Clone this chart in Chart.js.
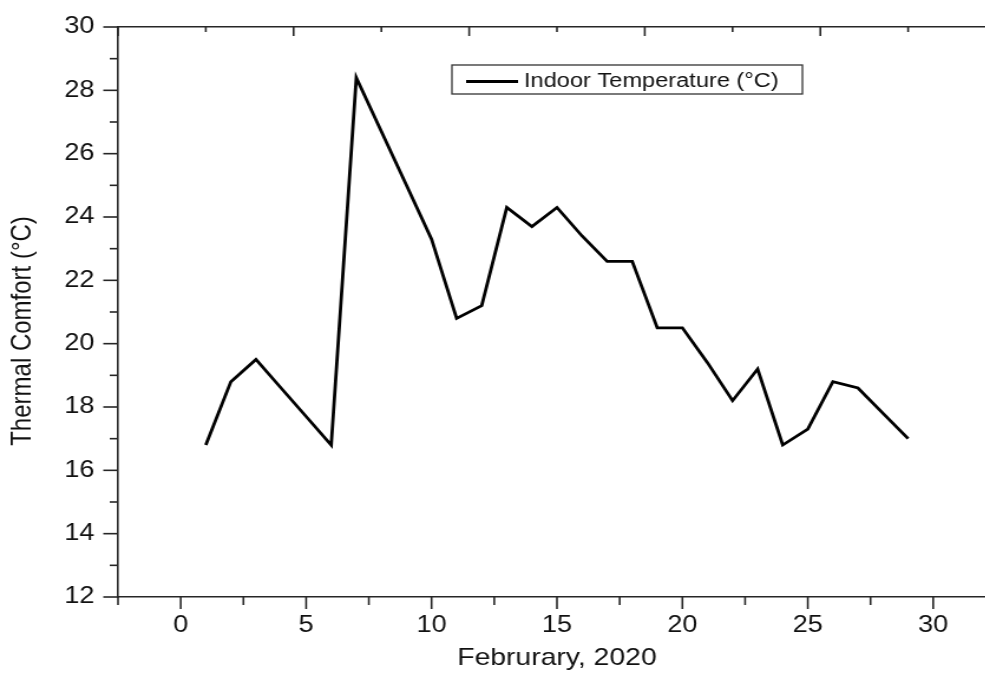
<!DOCTYPE html>
<html>
<head>
<meta charset="utf-8">
<script src="https://cdn.jsdelivr.net/npm/chart.js@4/dist/chart.umd.min.js"></script>
<style>
  html, body { margin: 0; padding: 0; background: #ffffff; overflow: hidden; width: 985px; height: 673px; }
  #clip { position: relative; width: 985px; height: 673px; overflow: hidden; }
  #wrap { position: absolute; left: 0; top: 0; width: 844px; height: 673px; transform: scaleX(1.18); transform-origin: 0 0; }
  canvas { display: block; }
</style>
</head>
<body>
<div id="clip"><div id="wrap"><canvas id="c" width="844" height="673" style="width:844px;height:673px"></canvas></div></div>
<script>
// ---- data ----
const days = [1, 2, 3, 4, 5, 6, 7, 8, 9, 10, 11, 12, 13, 14, 15, 16, 17, 18, 19, 20, 21, 22, 23, 24, 25, 26, 27, 28, 29];
const indoorTemp = [16.8, 18.8, 19.5, 18.6, 17.7, 16.8, 28.4, 26.7, 25.0, 23.3, 20.8, 21.2, 24.3, 23.7, 24.3, 23.4, 22.6, 22.6, 20.5, 20.5, 19.4, 18.2, 19.2, 16.8, 17.3, 18.8, 18.6, 17.8, 17.0];
const seriesLabel = 'Indoor Temperature (\u00B0C)';
const xTickValues = [0, 5, 10, 15, 20, 25, 30];
const yTickValues = [12, 14, 16, 18, 20, 22, 24, 26, 28, 30];
const xTitle = 'Februrary, 2020';
const yTitle = 'Thermal Comfort (\u00B0C)';

const FONT = "'Liberation Sans', Arial, Helvetica, sans-serif";
const AXIS = '#262626';
const TEXT = '#111111';

const tickMarks = {
  id: 'tickMarks',
  afterDraw(chart) {
    const { ctx, chartArea: ca, scales } = chart;
    ctx.save();
    ctx.strokeStyle = AXIS;
    ctx.lineWidth = 1.6;
    const seg = (x1, y1, x2, y2) => { ctx.beginPath(); ctx.moveTo(x1, y1); ctx.lineTo(x2, y2); ctx.stroke(); };
    const y = scales.y;
    for (let v = y.min; v <= y.max + 1e-9; v += 1) {
      const py = y.getPixelForValue(v);
      const len = (Math.round(v) % 2 === 0) ? 12.5 : 7;
      seg(ca.left - len, py, ca.left, py);
    }
    const x = scales.x;
    for (let v = x.min; v <= x.max + 1e-9; v += 2.5) {
      const px = x.getPixelForValue(v);
      const major = Math.abs(v / 5 - Math.round(v / 5)) < 1e-9;
      seg(px, ca.bottom, px, ca.bottom + (major ? 12 : 8));
    }
    const t = scales.x2;
    for (let v = t.min; v <= t.max + 1e-9; v += 1) {
      const px = t.getPixelForValue(v);
      const major = Math.round(v) % 2 === 0;
      seg(px, ca.top, px, ca.top + (major ? 9 : 5));
    }
    ctx.restore();
  }
};

const extras = {
  id: 'extras',
  afterDraw(chart) {
    const { ctx } = chart;
    ctx.save();
    // y-axis title
    ctx.fillStyle = TEXT;
    ctx.font = '24px ' + FONT;
    ctx.textAlign = 'center';
    ctx.textBaseline = 'middle';
    ctx.translate(19, 331);
    ctx.rotate(-Math.PI / 2);
    ctx.fillText(yTitle, 0, 0);
    ctx.restore();

    // legend box
    const ds = chart.data.datasets[0];
    ctx.save();
    const bx = 383, by = 65, bw = 297, bh = 29;
    ctx.fillStyle = '#ffffff';
    ctx.fillRect(bx, by, bw, bh);
    ctx.strokeStyle = '#333333';
    ctx.lineWidth = 1.3;
    ctx.strokeRect(bx, by, bw, bh);
    ctx.strokeStyle = ds.borderColor;
    ctx.lineWidth = ds.borderWidth;
    ctx.beginPath();
    ctx.moveTo(bx + 12, by + 16.5);
    ctx.lineTo(bx + 56, by + 16.5);
    ctx.stroke();
    ctx.fillStyle = TEXT;
    ctx.font = '20px ' + FONT;
    ctx.textAlign = 'left';
    ctx.textBaseline = 'middle';
    ctx.fillText(ds.label, bx + 61, by + 16.5);
    ctx.restore();
  }
};

new Chart(document.getElementById('c'), {
  type: 'line',
  data: {
    datasets: [{
      label: seriesLabel,
      data: days.map((d, i) => ({ x: d, y: indoorTemp[i] })),
      borderColor: '#000000',
      backgroundColor: '#000000',
      borderWidth: 2.8,
      pointRadius: 0,
      tension: 0,
      borderJoinStyle: 'miter',
      fill: false,
      xAxisID: 'x',
      yAxisID: 'y'
    }]
  },
  options: {
    responsive: false,
    devicePixelRatio: 1,
    animation: false,
    layout: { padding: 0 },
    plugins: { legend: { display: false }, tooltip: { enabled: false } },
    scales: {
      x: {
        type: 'linear',
        position: 'bottom',
        min: -2.5,
        max: 32.5,
        afterBuildTicks: s => { s.ticks = xTickValues.map(v => ({ value: v })); },
        afterFit: s => { s.height = 76; },
        grid: { display: false, drawTicks: true, tickLength: 12 },
        border: { display: true, color: AXIS, width: 1.6 },
        ticks: { font: { family: FONT, size: 23 }, color: TEXT, padding: 3, maxRotation: 0, autoSkip: false },
        title: { display: true, text: xTitle, font: { family: FONT, size: 24 }, color: TEXT, padding: { top: 0, bottom: 0 } }
      },
      x2: {
        type: 'linear',
        position: 'top',
        min: 0,
        max: 10,
        afterFit: s => { s.height = 27; },
        grid: { display: false, drawTicks: false },
        border: { display: true, color: AXIS, width: 1.6 },
        ticks: { display: false }
      },
      y: {
        type: 'linear',
        position: 'left',
        min: 12,
        max: 30,
        afterBuildTicks: s => { s.ticks = yTickValues.map(v => ({ value: v })); },
        afterFit: s => { s.width = 100; },
        grid: { display: false, drawTicks: true, tickLength: 12 },
        border: { display: true, color: AXIS, width: 1.6 },
        ticks: { font: { family: FONT, size: 23 }, color: TEXT, padding: 8 }
      }
    }
  },
  plugins: [tickMarks, extras]
});
</script>
</body>
</html>
